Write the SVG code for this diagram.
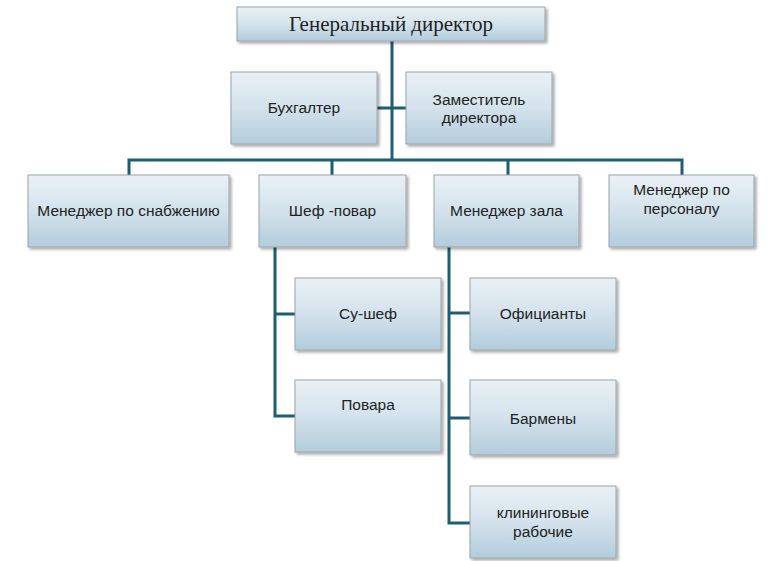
<svg xmlns="http://www.w3.org/2000/svg" width="768" height="561" viewBox="0 0 768 561">
<defs>
<linearGradient id="g" x1="0" y1="0" x2="0" y2="1">
<stop offset="0" stop-color="#eaf1f6"/>
<stop offset="0.5" stop-color="#d3e2ec"/>
<stop offset="1" stop-color="#b3ccdb"/>
</linearGradient>
<filter id="sh" x="-10%" y="-10%" width="125%" height="130%">
<feGaussianBlur in="SourceAlpha" stdDeviation="1.5"/>
<feOffset dx="1.5" dy="2" result="o"/>
<feComponentTransfer><feFuncA type="linear" slope="0.35"/></feComponentTransfer>
<feMerge><feMergeNode/><feMergeNode in="SourceGraphic"/></feMerge>
</filter>
</defs>
<style>
.b{fill:url(#g);stroke:#9aa4aa;stroke-width:1;filter:url(#sh)}
.t{font-family:"Liberation Sans",Arial,sans-serif;font-size:15.5px;fill:#222;text-anchor:middle}
.s{font-family:"Liberation Serif","Times New Roman",serif;font-size:21px;fill:#222;text-anchor:middle}
.c{fill:none;stroke:#1d5e72;stroke-width:3}
</style>
<rect width="768" height="561" fill="#ffffff"/>
<g id="connectors">
<path class="c" d="M392 41V160"/>
<path class="c" d="M377 108H406"/>
<path class="c" d="M129 175V160H682V175"/>
<path class="c" d="M332 160V175"/>
<path class="c" d="M508 160V175"/>
<path class="c" d="M275 247V416H295"/>
<path class="c" d="M275 314H295"/>
<path class="c" d="M449 247V523H470"/>
<path class="c" d="M449 313H470"/>
<path class="c" d="M449 418H470"/>
</g>
<g id="gen"><rect class="b" x="237" y="7" width="308" height="34"/><text class="s" x="391" y="31">Генеральный директор</text></g>
<g id="buh"><rect class="b" x="231" y="72" width="146" height="72"/><text class="t" x="304" y="113">Бухгалтер</text></g>
<g id="zam"><rect class="b" x="406" y="72" width="146" height="72"/><text class="t" x="479" y="105">Заместитель</text><text class="t" x="479" y="123">директора</text></g>
<g id="snab"><rect class="b" x="28" y="175" width="201" height="72"/><text class="t" x="128.5" y="216">Менеджер по снабжению</text></g>
<g id="chef"><rect class="b" x="259" y="175" width="147" height="72"/><text class="t" x="332.5" y="216">Шеф -повар</text></g>
<g id="zal"><rect class="b" x="434" y="175" width="145" height="72"/><text class="t" x="506.5" y="216">Менеджер зала</text></g>
<g id="pers"><rect class="b" x="609" y="175" width="145" height="72"/><text class="t" x="681.5" y="195">Менеджер по</text><text class="t" x="681.5" y="214">персоналу</text></g>
<g id="sous"><rect class="b" x="295" y="278" width="146" height="72"/><text class="t" x="368" y="319">Су-шеф</text></g>
<g id="povara"><rect class="b" x="295" y="380" width="146" height="72"/><text class="t" x="368" y="410">Повара</text></g>
<g id="ofic"><rect class="b" x="470" y="278" width="146" height="72"/><text class="t" x="543" y="319">Официанты</text></g>
<g id="barm"><rect class="b" x="470" y="380" width="146" height="75"/><text class="t" x="543" y="424">Бармены</text></g>
<g id="clean"><rect class="b" x="470" y="486" width="146" height="72"/><text class="t" x="543" y="518">клининговые</text><text class="t" x="543" y="537">рабочие</text></g>
</svg>
